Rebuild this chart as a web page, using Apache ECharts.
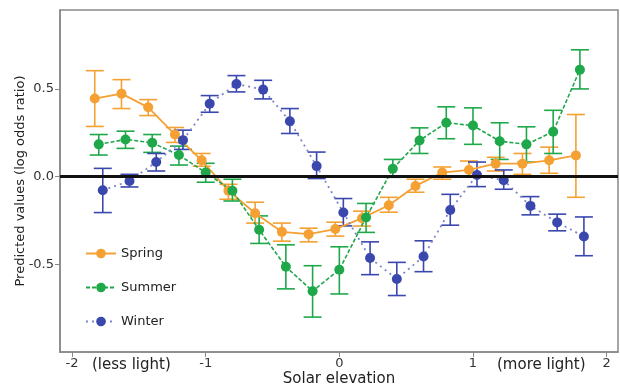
<!DOCTYPE html>
<html>
<head>
<meta charset="utf-8">
<script src="https://cdn.jsdelivr.net/npm/echarts@6/dist/echarts.min.js"></script>
<style>html,body{margin:0;padding:0;background:#fff}#c{width:620px;height:387px}</style>
</head>
<body>
<div id="c"></div>
<script>
// Data
const springX = [-1.83,-1.63,-1.43,-1.23,-1.03,-0.83,-0.63,-0.43,-0.23,-0.03,0.17,0.37,0.57,0.77,0.97,1.17,1.37,1.57,1.77];
const springY = [0.445,0.473,0.395,0.240,0.093,-0.080,-0.209,-0.315,-0.328,-0.299,-0.237,-0.163,-0.053,0.023,0.038,0.074,0.074,0.093,0.121];
const springLo = [0.286,0.388,0.348,0.195,0.059,-0.129,-0.265,-0.368,-0.372,-0.339,-0.282,-0.203,-0.089,-0.015,0.003,0.032,0.013,0.019,-0.118];
const springHi = [0.604,0.553,0.439,0.280,0.132,-0.044,-0.146,-0.265,-0.294,-0.260,-0.197,-0.118,-0.015,0.055,0.089,0.110,0.132,0.168,0.354];

const summerX = [-1.80,-1.60,-1.40,-1.20,-1.00,-0.80,-0.60,-0.40,-0.20,0.00,0.20,0.40,0.60,0.80,1.00,1.20,1.40,1.60,1.80];
const summerY = [0.184,0.212,0.193,0.123,0.023,-0.081,-0.303,-0.514,-0.653,-0.531,-0.233,0.045,0.206,0.307,0.291,0.202,0.184,0.256,0.610];
const summerLo = [0.123,0.161,0.138,0.066,-0.032,-0.139,-0.381,-0.640,-0.801,-0.669,-0.318,-0.004,0.132,0.216,0.184,0.098,0.083,0.132,0.500];
const summerHi = [0.240,0.259,0.240,0.174,0.076,-0.015,-0.224,-0.389,-0.508,-0.400,-0.153,0.098,0.278,0.398,0.392,0.307,0.284,0.378,0.723];

const winterX = [-1.77,-1.57,-1.37,-1.17,-0.97,-0.77,-0.57,-0.37,-0.17,0.03,0.23,0.43,0.63,0.83,1.03,1.23,1.43,1.63,1.83];
const winterY = [-0.078,-0.025,0.083,0.208,0.415,0.528,0.496,0.316,0.060,-0.205,-0.464,-0.584,-0.455,-0.190,0.009,-0.021,-0.167,-0.261,-0.341];
const winterLo = [-0.205,-0.059,0.032,0.155,0.367,0.483,0.443,0.246,-0.011,-0.281,-0.559,-0.678,-0.542,-0.277,-0.057,-0.072,-0.218,-0.309,-0.451];
const winterHi = [0.047,0.013,0.132,0.265,0.462,0.576,0.549,0.388,0.140,-0.125,-0.372,-0.489,-0.366,-0.101,0.083,0.038,-0.114,-0.214,-0.230];

const xTicks = [-2,-1,0,1,2];
const yTicks = [-0.5,0,0.5];
const yTickLabels = ['-0.5','0.0','0.5'];

const colors = {Spring:'#F5A033', Summer:'#1FA84A', Winter:'#3A47AD'};

function pts(xs, ys){ return xs.map((x,i)=>[x, ys[i]]); }
function errs(xs, lo, hi){ return xs.map((x,i)=>[x, lo[i], hi[i]]); }

function errSeries(name, data, color){
  return {
    type:'custom', name:name+'err', data:data, z:2, silent:true,
    encode:{x:0, y:[1,2]},
    renderItem:function(params, api){
      const x = api.value(0);
      const lo = api.coord([x, api.value(1)]);
      const hi = api.coord([x, api.value(2)]);
      const hw = 9;
      const st = {stroke:color, lineWidth:1.6, fill:null};
      return {type:'group', children:[
        {type:'line', shape:{x1:lo[0], y1:lo[1], x2:hi[0], y2:hi[1]}, style:st},
        {type:'line', shape:{x1:lo[0]-hw, y1:lo[1], x2:lo[0]+hw, y2:lo[1]}, style:st},
        {type:'line', shape:{x1:hi[0]-hw, y1:hi[1], x2:hi[0]+hw, y2:hi[1]}, style:st}
      ]};
    }
  };
}

const chart = echarts.init(document.getElementById('c'));
chart.setOption({
  animation:false,
  backgroundColor:'#fff',
  grid:{left:60, right:2, top:10, bottom:35, containLabel:false, outerBoundsMode:'none',
    show:true, borderColor:'#888', borderWidth:1.5, backgroundColor:'transparent'},
  xAxis:{
    type:'value', min:-2.09, max:2.085,
    splitLine:{show:false},
    axisLine:{show:true, onZero:false, lineStyle:{color:'#888', width:1.5}},
    axisTick:{show:true, inside:false, length:5, customValues:xTicks, lineStyle:{color:'#888'}},
    axisLabel:{customValues:xTicks, color:'#333', fontSize:13, margin:5, fontFamily:'DejaVu Sans',
      formatter:v=>String(v)},
    name:'Solar elevation', nameLocation:'middle', nameGap:20, nameMoveOverlap:false,
    nameTextStyle:{fontSize:15, color:'#222', fontFamily:'DejaVu Sans'}
  },
  yAxis:{
    type:'value', min:-1.0, max:0.95,
    splitLine:{show:false},
    axisLine:{show:true, onZero:false, lineStyle:{color:'#888', width:1.5}},
    axisTick:{show:true, inside:false, length:5, customValues:yTicks, lineStyle:{color:'#888'}},
    axisLabel:{customValues:yTicks, color:'#333', fontSize:13, margin:6, fontFamily:'DejaVu Sans',
      formatter:v=>yTickLabels[yTicks.findIndex(t=>Math.abs(t-v)<1e-9)]},
    name:'Predicted values (log odds ratio)', nameLocation:'middle', nameGap:33, nameMoveOverlap:false,
    nameTextStyle:{fontSize:13, color:'#222', fontFamily:'DejaVu Sans'}
  },
  legend:{
    orient:'vertical', left:80, top:242, itemWidth:30, itemHeight:12, itemGap:21,
    data:['Spring','Summer','Winter'],
    textStyle:{fontSize:13, color:'#222', fontFamily:'DejaVu Sans'}
  },
  graphic:[
    {type:'text', left:92, top:358, style:{text:'(less light)', fontSize:15, fill:'#222', fontFamily:'DejaVu Sans'}},
    {type:'text', left:497, top:358, style:{text:'(more light)', fontSize:15, fill:'#222', fontFamily:'DejaVu Sans'}}
  ],
  series:[
    errSeries('Spring', errs(springX, springLo, springHi), colors.Spring),
    errSeries('Summer', errs(summerX, summerLo, summerHi), colors.Summer),
    errSeries('Winter', errs(winterX, winterLo, winterHi), colors.Winter),
    {name:'Spring', type:'line', data:pts(springX, springY), z:3, symbol:'circle', symbolSize:10,
      itemStyle:{color:colors.Spring}, lineStyle:{color:colors.Spring, width:1.8, type:'solid'},
      markLine:{silent:true, symbol:['none','none'], label:{show:false}, z:5,
        lineStyle:{color:'#111', width:3, type:'solid'}, data:[{yAxis:0}]}},
    {name:'Summer', type:'line', data:pts(summerX, summerY), z:3, symbol:'circle', symbolSize:10,
      itemStyle:{color:colors.Summer}, lineStyle:{color:colors.Summer, width:1.6, type:[4,2]}},
    {name:'Winter', type:'line', data:pts(winterX, winterY), z:3, symbol:'circle', symbolSize:10,
      itemStyle:{color:colors.Winter}, lineStyle:{color:'#7F86CC', width:1.8, type:[2,4]}}
  ]
});
</script>
</body>
</html>
